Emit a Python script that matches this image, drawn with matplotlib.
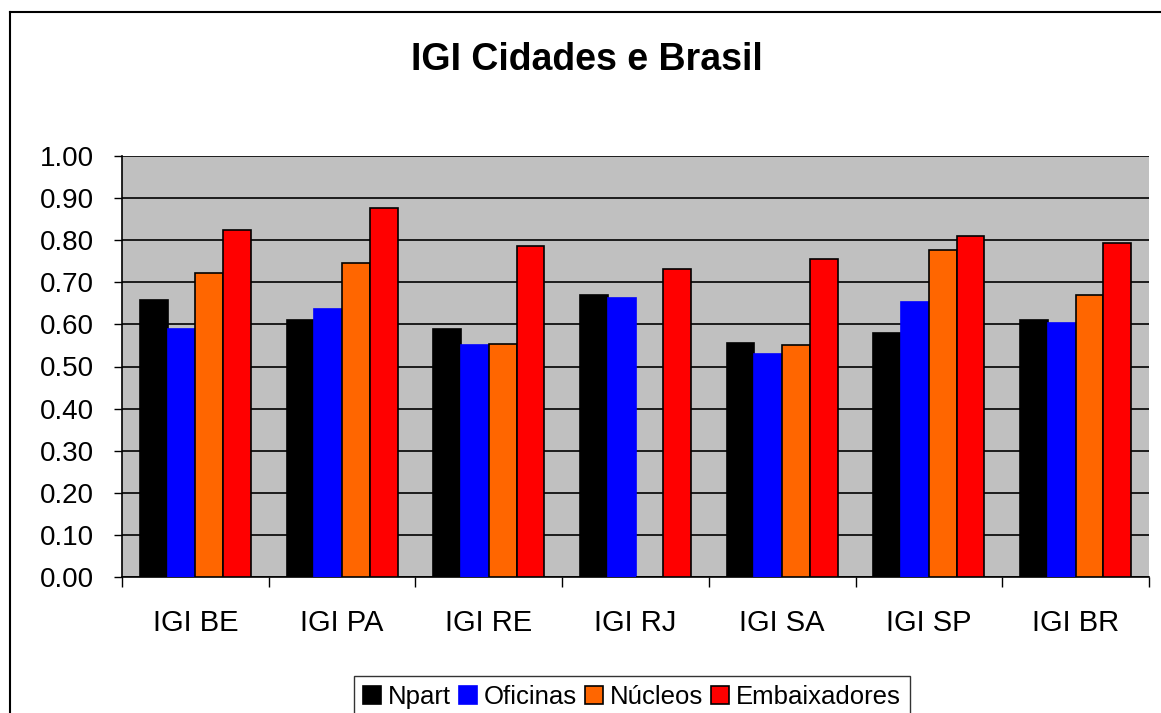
import numpy as np
import matplotlib
matplotlib.use("Agg")
import matplotlib.pyplot as plt
from matplotlib.lines import Line2D

plt.rcParams['font.family'] = ['Liberation Sans', 'DejaVu Sans']

# data
categories = ["IGI BE", "IGI PA", "IGI RE", "IGI RJ", "IGI SA", "IGI SP", "IGI BR"]
npart = [0.658, 0.611, 0.588, 0.671, 0.555, 0.579, 0.610]
oficinas = [0.588, 0.636, 0.552, 0.663, 0.529, 0.654, 0.603]
nucleos = [0.722, 0.747, 0.554, 0.0, 0.550, 0.777, 0.671]
embaixadores = [0.824, 0.876, 0.787, 0.732, 0.755, 0.811, 0.793]
series_names = ["Npart", "Oficinas", "Núcleos", "Embaixadores"]
series_colors = ["#000000", "#0000FF", "#FF6600", "#FF0000"]
series_edges = ["#000000", "#0000FF", "#000000", "#000000"]

W, H = 1161, 713
fig = plt.figure(figsize=(W / 100, H / 100), dpi=100)
fig.patch.set_facecolor("white")

# plot area in pixels: x 122..1149, y 156..577
ax = fig.add_axes([122 / W, 1 - 577 / H, 1027 / W, 421 / H])
ax.set_facecolor("#C0C0C0")

x = np.arange(len(categories))
bw = 0.189
all_series = [npart, oficinas, nucleos, embaixadores]
for i, vals in enumerate(all_series):
    offs = (i - 1.5) * bw
    ax.bar(x + offs, vals, width=bw, color=series_colors[i],
           edgecolor=series_edges[i], linewidth=1.2, label=series_names[i],
           zorder=3)

ax.set_xlim(-0.5, len(categories) - 0.5)
ax.set_ylim(0, 1.0)

ax.set_yticks(np.arange(0, 1.01, 0.1))
ax.set_yticklabels([f"{v:.2f}" for v in np.arange(0, 1.01, 0.1)], fontsize=20)
ax.yaxis.grid(True, color="black", linewidth=1.2, zorder=1)
ax.set_axisbelow(True)

ax.set_xticks(np.arange(-0.5, len(categories), 1.0))
ax.set_xticklabels([])
ax.set_xticks(x, minor=True)
ax.set_xticklabels(categories, minor=True, fontsize=21)
ax.tick_params(axis="x", which="major", direction="out", length=7, width=1)
ax.tick_params(axis="x", which="minor", length=0, pad=23)
ax.tick_params(axis="y", direction="out", length=6, width=1, pad=14)

for side in ["top", "right"]:
    ax.spines[side].set_visible(False)
ax.spines["left"].set_linewidth(1.2)
ax.spines["bottom"].set_linewidth(1.2)

fig.text(587 / W, 1 - 60 / H, "IGI Cidades e Brasil", ha="center", va="center",
         fontsize=27, fontweight="bold")

leg = fig.legend(loc="upper center", bbox_to_anchor=(632 / W, 1 - 676 / H),
                 ncol=4, fontsize=18.5, frameon=True, fancybox=False,
                 edgecolor="black", handlelength=0.7, handleheight=0.7,
                 handletextpad=0.28, columnspacing=0.3, borderpad=0.35,
                 borderaxespad=0)
leg.get_frame().set_linewidth(1.0)

# outer chart border (left and top visible only)
fig.add_artist(Line2D([9.5 / W, 9.5 / W], [0, 1 - 12 / H], color="black", linewidth=1.5))
fig.add_artist(Line2D([9.5 / W, 1], [1 - 12 / H, 1 - 12 / H], color="black", linewidth=1.5))

fig.savefig("out.png", dpi=100)
